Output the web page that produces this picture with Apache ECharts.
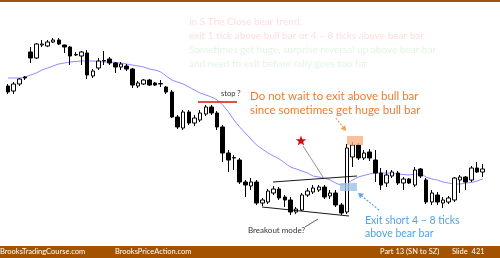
<!DOCTYPE html>
<html><head><meta charset="utf-8">
<script src="https://cdn.jsdelivr.net/npm/echarts@6/dist/echarts.min.js"></script>
<style>html,body{margin:0;padding:0;background:#fff}#c{width:500px;height:258px}</style>
</head><body><div id="c"></div>
<script>
// Candle values (arbitrary price units)
const opens=[174,169,176,183,208,202,215,214,218,220,215,213,205,204,207,184,192,199,201,197,193,194,191,174,176,180,177,176,173,168,143,132,148,137,140,146,153,147,133,107,102,100,78,74,78,57,58,67,71,63,60,48,50,65,68,70,73,64,67,55,48,103,115,102,108,100,87,77,84,87,77,81,75,91,80,58,65,57,58,60,80,83,80,92,88];
const closes=[168,176,181,182,202,216,216,218,220,216,213,204,205.5,208,185,189,199,199.5,197,193,196,191,175,177,180,175,175,176.5,168,143,133,148,137,142,147,153,147,133,107,100,102.5,78,75,78,57,60,69,71,62,60,48,51,65,69,72,73,63,67,55,47,112,115,102,107,102,87,75,85,88,77,81,77,90,84,58,67,58,60,62,82,83,78,92,88,91];
const lows=[166,166,174,180,197,201,213,213,217,215,207,195,204,195,181,182,190,195,195,187,190,189,172,172,175,174,174,173,166,142,131,130,135,134,138,144,145,130,98,88,90,76,63,70,55,54,56,65,60,53,45,46,49,63,66,68,61,61,53,45,46,93,100,100,99,78,70,73,82,75,70,76,73,82,56,55,55,52,56,58,67,70,78,87,83];
const highs=[176,178,182,184,213,217,220,220,222,222,215.5,214,208,209,210,191,202,209,203,198,198,196,192,179,181,181,178,180,174,170,145,150,150,145,150,155,155,149,135,110,105,102,80,82,80,62,71,74,73,65,63,53,67,72,75,75,75,70,70,57,116,118,117,110,111,110,92,90,90,89,83,82,93,92,82,70,68,63,64,83,85,84,94,98,96];
const ema=[182,182,182,183,185,187,190,192,194,196,197,198,198.5,199,199,199,198.5,198,198,197.5,197,196,195,194,193,191,190,188,184,180,178,176,173,170,167,165,163,160,155,148,140,133,127,121,115,111,107,104,101,97,93,91,89,87,84,83,82,80,77,75,77,80,83,84.5,86,87,87,87,86.5,86,85.5,85,86,86,83,81,80,78,77,76,76,77,77.5,79,81];

const cats = opens.map((_, i) => String(i + 1));
const ohlc = opens.map((o, i) => [o, closes[i], lows[i], highs[i]]);

const FONT = 'Lato, "Liberation Sans", sans-serif';
function txt(s, x, y, size, fill, extra) {
  return Object.assign({type:'text', x:x, y:y, z:20, style:{text:s, fill:fill, font:size+'px '+FONT, align:'left', verticalAlign:'middle'}}, extra||{});
}
function ln(x1,y1,x2,y2,stroke,w,dash){
  return {type:'line', z:15, shape:{x1,y1,x2,y2}, style:{stroke, lineWidth:w, lineDash:dash||null}};
}
function arrow(x1,y1,x2,y2,color){
  const a=Math.atan2(y2-y1,x2-x1), L=5, W=3;
  const bx=x2-L*Math.cos(a), by=y2-L*Math.sin(a);
  return [ln(x1,y1,bx,by,color,1.2,[2,1.5]),
    {type:'polygon', z:15, shape:{points:[[x2,y2],[bx+W*Math.sin(a),by-W*Math.cos(a)],[bx-W*Math.sin(a),by+W*Math.cos(a)]]}, style:{fill:color}}];
}
function star(cx,cy,R,r,color){
  const pts=[];
  for(let k=0;k<10;k++){const ang=-Math.PI/2+k*Math.PI/5, rad=k%2?r:R; pts.push([cx+rad*Math.cos(ang), cy+rad*Math.sin(ang)]);}
  return {type:'polygon', z:15, shape:{points:pts}, style:{fill:color}};
}

const chart = echarts.init(document.getElementById('c'));
chart.setOption({
  animation:false,
  backgroundColor:'#ffffff',
  grid:{left:5.2, top:0, width:480.25, height:258},
  xAxis:{type:'category', data:cats, show:false, boundaryGap:true},
  yAxis:{type:'value', min:2, max:260, show:false},
  series:[
    {type:'candlestick', data:ohlc, barWidth:4, z:3,
     itemStyle:{color:'#ffffff', color0:'#000000', borderColor:'#000000', borderColor0:'#000000', borderWidth:1}},
    {type:'line', data:ema, symbol:'none', z:2, smooth:0.3,
     lineStyle:{color:'#8a8aff', width:1}}
  ],
  graphic:[
    {type:'rect', z:1, shape:{x:0,y:0,width:500,height:2}, style:{fill:'#a0520a'}},
    {type:'rect', z:1, shape:{x:0,y:246,width:500,height:12}, style:{fill:'#a35300'}},
    txt('BrooksTradingCourse.com', 0, 252, 7.5, '#ffffff'),
    txt('BrooksPriceAction.com', 115, 252, 7.5, '#ffffff'),
    txt('Part 13 (SN to SZ)', 380, 252, 7.5, '#ffffff'),
    txt('Slide  421', 452, 252, 7.5, '#ffffff'),
    txt('In S The Close bear trend,', 189, 22, 10, '#ffdede'),
    txt('exit 1 tick above bull bar or 4 \u2013 8 ticks above bear bar', 189, 36, 10, '#ffdede'),
    txt('Sometimes get huge, surprise reversal up above bear bar', 189, 50, 10, '#e2f5e2'),
    txt('and need to exit before rally goes too far', 189, 64, 10, '#e2f5e2'),
    txt('Do not wait to exit above bull bar', 250, 96, 11.5, '#ed7d31'),
    txt('since sometimes get huge bull bar', 250, 110, 11.5, '#ed7d31'),
    txt('Exit short 4 \u2013 8 ticks', 365, 221, 10.5, '#4fa3ea'),
    txt('above bear bar', 365, 234, 10.5, '#4fa3ea'),
    txt('stop ?', 221, 94, 7.5, '#333333'),
    txt('Breakout mode?', 248, 230, 8, '#333333'),
    ln(198,102,237,102,'#e01010',1.6),
    ln(273,182,357,176,'#000000',0.9),
    ln(262,207,349,216,'#000000',0.9),
    ln(303,146,323,177,'#666666',0.7),
    ln(305,227,318,219,'#333333',0.8),
    {type:'rect', z:12, shape:{x:347,y:136,width:16,height:9}, style:{fill:'#f4b183', opacity:0.8}},
    {type:'rect', z:12, shape:{x:340,y:183,width:17,height:8}, style:{fill:'#9dc3e6', opacity:0.8}},
    star(301,141,5.5,2.3,'#d01010')
  ].concat(arrow(336,118,346,131,'#f0a050')).concat(arrow(379,210,358,193,'#5aa7ea'))
});
</script></body></html>
